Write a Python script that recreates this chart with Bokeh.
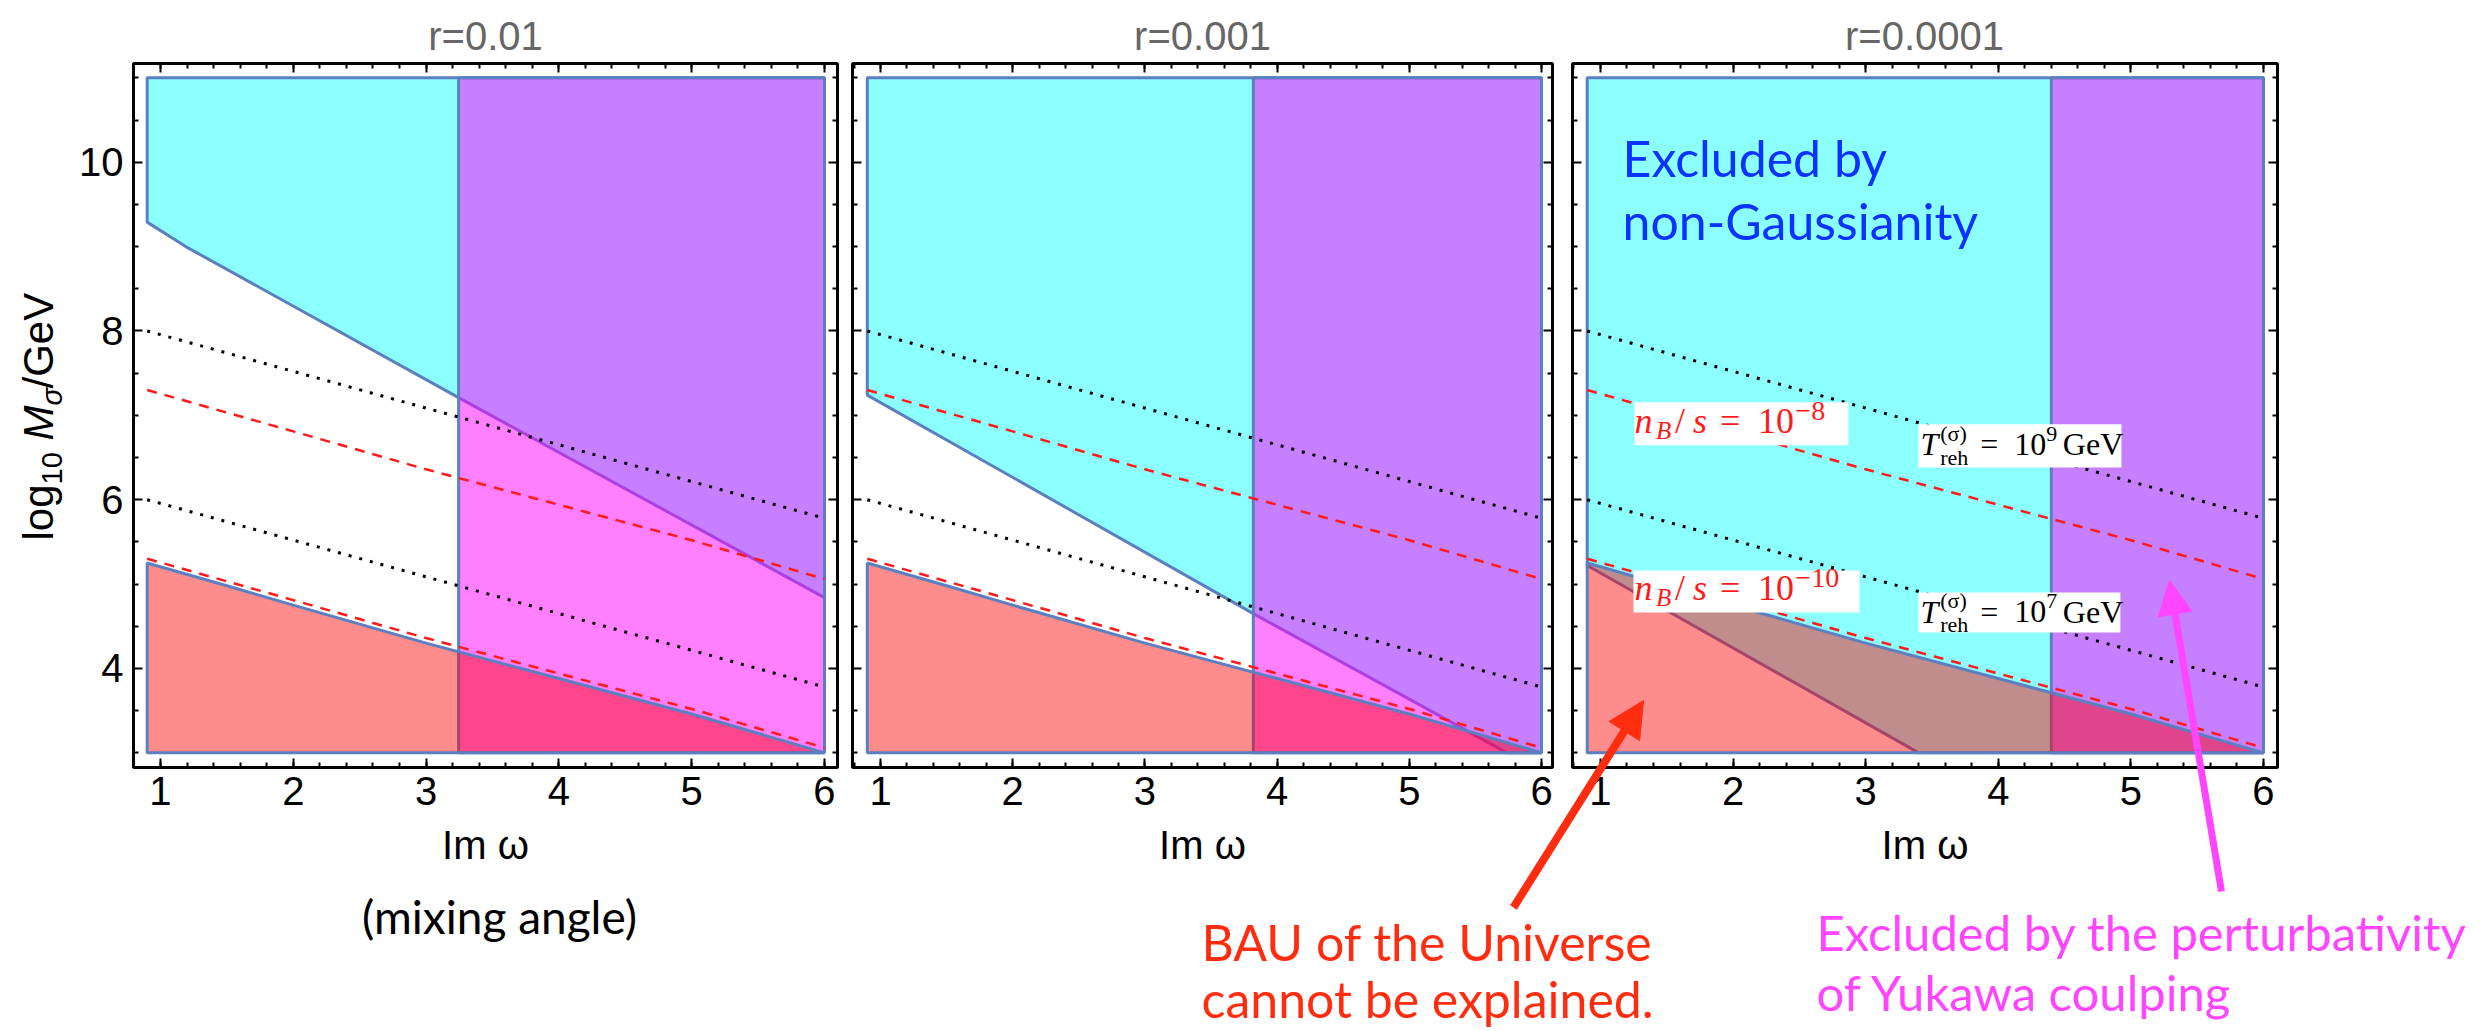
import math
from bokeh.plotting import figure
from bokeh.models import (Range1d, FixedTicker, LinearAxis, Label, Arrow, NormalHead,
                          CustomJSTickFormatter)
from bokeh.layouts import row, column
from bokeh.embed import file_html
from bokeh.resources import INLINE

# ------------------------------------------------------------------ data
PANEL_TITLES = ["r=0.01", "r=0.001", "r=0.0001"]

IMW_MIN, IMW_MAX = 0.9, 6.0          # plotted Im(omega) interval
LOGM_MIN, LOGM_MAX = 3.0, 11.0       # plotted log10 M interval

# lower boundary of the region excluded by non-Gaussianity (one per panel)
NG_IMW = [[0.9, 1.19, 3.245, 6.0], [0.9, 3.82, 5.74], [0.9, 3.40]]
NG_LOGM = [[9.29, 9.00, 7.21, 4.84], [7.24, 4.65, 3.00], [5.22, 3.00]]

# perturbativity of Yukawa coupling: excluded for Im(omega) above this value
PERT_IMW = [3.245, 3.82, 4.40]

# BAU cannot be explained below this curve
BAU_IMW = [0.9, 1.5, 2.0, 3.0, 4.0, 5.0, 6.0]
BAU_LOGM = [5.25, 4.98, 4.75, 4.30, 3.88, 3.46, 3.00]

# n_B/s contours (red dashed)
NB_IMW = [0.9, 2.0, 3.0, 4.0, 5.0, 6.0]
NB10_LOGM = [5.30, 4.81, 4.36, 3.94, 3.52, 3.06]
NB8_LOGM = [7.30, 6.81, 6.36, 5.94, 5.52, 5.06]

# reheating temperature contours (black dotted)
TR_IMW = [0.9, 6.0]
TR9_LOGM = [8.00, 5.78]
TR7_LOGM = [6.00, 3.78]

X_TICKS = [1, 2, 3, 4, 5, 6]
X_MINOR = [round(0.8 + 0.2 * k, 1) for k in range(27)]
Y_TICKS = [4, 6, 8, 10]
Y_MINOR = [3, 3.5, 4.5, 5, 5.5, 6.5, 7, 7.5, 8.5, 9, 9.5, 10.5, 11]

# ------------------------------------------------------------------ style
CYAN, MAGENTA, RED = "#00ffff", "#ff00ff", "#ff0000"
EDGE = "#5b7fc0"
AX_FONT = "Liberation Sans"
FRAME_H = 704
Y_RANGE = (2.826, 11.17)
# x range, frame width, left border, right border
PANEL_LAYOUT = [((0.797, 6.098), 704, 133, 7),
                ((0.788, 6.083), 700, 8, 12),
                ((0.789, 6.106), 705, 8, 210)]
# Label text is vertically centred on its anchor: distance baseline -> centre, in em
C_SANS, C_LATO, C_SERIF = 0.36, 0.39, 0.34


def style_axis(ax, labels=True):
    ax.axis_line_color = None
    ax.major_tick_in = 9
    ax.major_tick_out = 0
    ax.minor_tick_in = 5
    ax.minor_tick_out = 0
    ax.major_tick_line_width = 2
    ax.minor_tick_line_width = 2
    ax.major_tick_line_color = "black"
    ax.minor_tick_line_color = "black"
    ax.major_label_text_font = AX_FONT
    ax.major_label_text_font_size = "40px"
    ax.major_label_text_color = "black"
    if not labels:
        ax.formatter = CustomJSTickFormatter(code="return ''")
        ax.major_label_standoff = 0


def math_label(p, x, y, pieces, size, color):
    for txt, dx, dy, sc, it in pieces:
        p.add_layout(Label(x=x, y=y, x_offset=dx * size,
                           y_offset=dy * size + C_SERIF * sc * size, text=txt,
                           text_font="Liberation Serif",
                           text_font_style="italic" if it else "normal",
                           text_font_size=f"{sc * size:.0f}px", text_color=color,
                           text_baseline="alphabetic", text_align="left"))


def nb_pieces(exp):
    return [("n", 0.0, 0, 1.0, True), ("B", 0.60, -0.17, 0.7, True),
            ("/", 1.13, 0, 1.0, False), ("s", 1.63, 0, 1.0, True),
            ("=", 2.38, 0, 1.0, False), ("10", 3.43, 0, 1.0, False),
            ("\u2212" + exp, 4.47, 0.36, 0.78, False)]


def tr_pieces(exp):
    return [("T", 0.0, 0, 1.0, True), ("reh", 0.62, -0.30, 0.7, False),
            ("(\u03c3)", 0.62, 0.45, 0.7, False), ("=", 1.87, 0, 1.0, False),
            ("10", 2.93, 0, 1.0, False), (exp, 3.93, 0.42, 0.7, False),
            ("GeV", 4.45, 0, 1.0, False)]


def make_panel(i):
    xr, fw, bl, br = PANEL_LAYOUT[i]
    p = figure(frame_width=fw, frame_height=FRAME_H,
               x_range=Range1d(*xr), y_range=Range1d(*Y_RANGE),
               output_backend="svg", toolbar_location=None,
               min_border_left=bl, min_border_right=br,
               min_border_top=63, min_border_bottom=264,
               outline_line_color="black", outline_line_width=3,
               background_fill_color="white", border_fill_color="white")
    p.xgrid.visible = False
    p.ygrid.visible = False

    # excluded by non-Gaussianity (above the boundary)
    bx, by = list(NG_IMW[i]), list(NG_LOGM[i])
    if bx[-1] < IMW_MAX:
        bx.append(IMW_MAX)
        by.append(LOGM_MIN)
    p.patch([IMW_MIN, IMW_MAX] + bx[::-1], [LOGM_MAX, LOGM_MAX] + by[::-1],
            fill_color=CYAN, fill_alpha=0.45, line_color=EDGE, line_width=3)
    # excluded by perturbativity
    xv = PERT_IMW[i]
    p.patch([xv, xv, IMW_MAX, IMW_MAX], [LOGM_MIN, LOGM_MAX, LOGM_MAX, LOGM_MIN],
            fill_color=MAGENTA, fill_alpha=0.5, line_color=EDGE, line_width=3)
    # BAU cannot be explained
    p.patch([IMW_MIN] + BAU_IMW, [LOGM_MIN] + BAU_LOGM,
            fill_color=RED, fill_alpha=0.45, line_color=EDGE, line_width=3)

    # contours
    for ys in (TR9_LOGM, TR7_LOGM):
        p.line(TR_IMW, ys, line_color="black", line_width=3, line_dash="3 8")
    for ys in (NB8_LOGM, NB10_LOGM):
        p.line(NB_IMW, ys, line_color="#ff1a1a", line_width=2.5, line_dash="10 8")

    # axes (frame ticks on all sides)
    xt = FixedTicker(ticks=X_TICKS, minor_ticks=X_MINOR)
    yt = FixedTicker(ticks=Y_TICKS, minor_ticks=Y_MINOR)
    bottom, left = p.below[0], p.left[0]
    bottom.ticker = xt
    left.ticker = yt
    style_axis(bottom, True)
    bottom.major_label_standoff = 9
    bottom.axis_label = "Im \u03c9"
    bottom.axis_label_text_font = AX_FONT
    bottom.axis_label_text_font_size = "40px"
    bottom.axis_label_text_font_style = "normal"
    bottom.axis_label_text_color = "black"
    bottom.axis_label_standoff = 15
    style_axis(left, i == 0)
    if i == 0:
        left.major_label_standoff = 10
    top = LinearAxis(ticker=xt)
    right = LinearAxis(ticker=yt)
    style_axis(top, False)
    style_axis(right, False)
    p.add_layout(top, "above")
    p.add_layout(right, "right")

    if i == 2:
        # white label boxes + labels of the contours
        boxes = [(1.249, 2.953, 4.664, 5.162), (1.256, 2.870, 6.644, 7.154),
                 (3.398, 4.929, 6.383, 6.893), (3.398, 4.921, 4.427, 4.901)]
        p.quad(left=[b[0] for b in boxes], right=[b[1] for b in boxes],
               bottom=[b[2] for b in boxes], top=[b[3] for b in boxes],
               fill_color="white", line_color=None)
        math_label(p, 1.256, 6.786, nb_pieces("8"), 36, "#ff1a1a")
        math_label(p, 1.256, 4.806, nb_pieces("10"), 36, "#ff1a1a")
        math_label(p, 3.413, 6.526, tr_pieces("9"), 32, "black")
        math_label(p, 3.413, 4.545, tr_pieces("7"), 32, "black")
    return p


panels = [make_panel(i) for i in range(3)]

# ------------------------------------------------------------------ overlay for free annotations (pixel coordinates)
ov = figure(width=2487, height=1031, x_range=Range1d(0, 2487), y_range=Range1d(1031, 0),
            output_backend="svg", toolbar_location=None, min_border=0,
            x_axis_type=None, y_axis_type=None,
            background_fill_color=None, border_fill_color=None, outline_line_color=None,
            margin=(-1031, 0, 0, 0))
ov.grid.visible = False


def olabel(x, base, text, size, color, font="Lato", align="left", style="normal"):
    """Horizontal text whose alphabetic baseline lies at pixel row `base`."""
    c = C_LATO if font == "Lato" else C_SANS
    ov.add_layout(Label(x=x, y=base - c * size, text=text, text_font=font,
                        text_font_size=f"{size}px", text_color=color, text_align=align,
                        text_baseline="alphabetic", text_font_style=style))


# panel titles
for cx, t in zip([485, 1202, 1924], PANEL_TITLES):
    olabel(cx, 50, t, 40, "#666666", font=AX_FONT, align="center")

# y axis label: log10 M_sigma / GeV (rotated, baseline at x = YL_X)
YL_X, YL_Y0, F = 53, 540, 42
for txt, off, sub, sc, st in [("log", 0, 0, 1.0, "normal"), ("10", 56, 9, 0.7, "normal"),
                              ("M", 100, 0, 1.0, "italic"), ("\u03c3", 135, 9, 0.7, "italic"),
                              ("/GeV", 152, 0, 1.0, "normal")]:
    size = int(F * sc)
    ov.add_layout(Label(x=YL_X + sub - C_SANS * size, y=YL_Y0 - off, text=txt,
                        text_font=AX_FONT, text_font_size=f"{size}px", text_color="black",
                        text_align="left", text_baseline="alphabetic",
                        text_font_style=st, angle=math.pi / 2))

olabel(499, 934, "(mixing angle)", 46, "black", align="center")

BLUE, ORANGE, PINK = "#0b33ff", "#ff2d10", "#ff45ff"
olabel(1622, 177, "Excluded by", 50, BLUE)
olabel(1622, 240, "non-Gaussianity", 50, BLUE)
olabel(1201, 961, "BAU of the Universe", 50, ORANGE)
olabel(1201, 1018, "cannot be explained.", 50, ORANGE)
olabel(1816, 951, "Excluded by the perturbativity", 49, PINK)
olabel(1816, 1011, "of Yukawa coulping", 49, PINK)

ov.add_layout(Arrow(end=NormalHead(size=36, fill_color=ORANGE, line_color=ORANGE),
                    x_start=1513, y_start=907, x_end=1643, y_end=700,
                    line_color=ORANGE, line_width=8))
ov.add_layout(Arrow(end=NormalHead(size=34, fill_color=PINK, line_color=PINK),
                    x_start=2221, y_start=891, x_end=2169, y_end=580,
                    line_color=PINK, line_width=7))

layout = column(row(*panels), ov)
open("out.html", "w").write(file_html(layout, INLINE))
